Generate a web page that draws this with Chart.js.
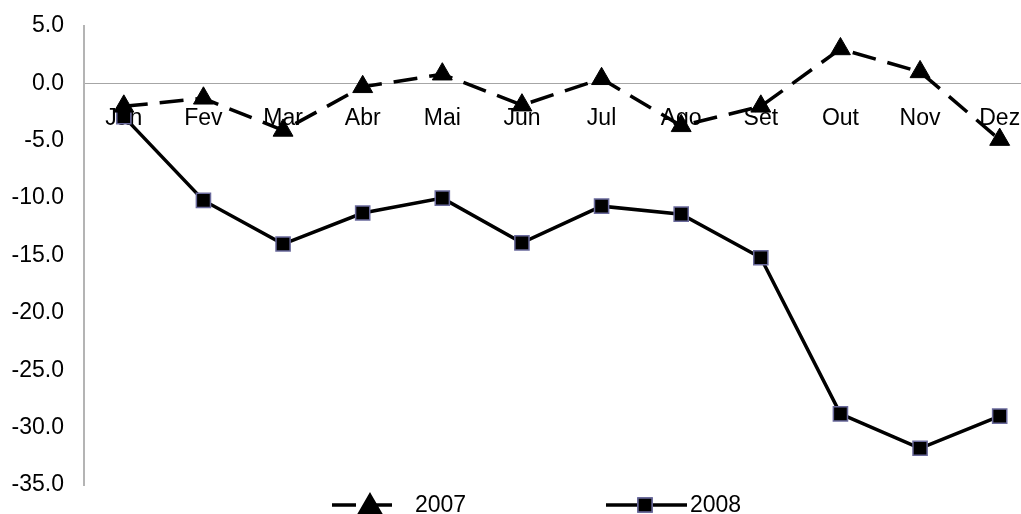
<!DOCTYPE html>
<html>
<head>
<meta charset="utf-8">
<script src="https://cdn.jsdelivr.net/npm/chart.js@4/dist/chart.umd.min.js"></script>
<style>
  html, body { margin: 0; padding: 0; background: #fff; overflow: hidden; }
  /* the plot runs a bit past the right edge, like the original */
  #wrap { width: 1021px; height: 514px; overflow: hidden; }
</style>
</head>
<body>
<div id="wrap"><canvas id="myChart" width="1052" height="514"></canvas></div>
<script>
// months on the category axis
const months = ['Jan', 'Fev', 'Mar', 'Abr', 'Mai', 'Jun', 'Jul', 'Ago', 'Set', 'Out', 'Nov', 'Dez'];

// values
const values2007 = [-2.0, -1.3, -4.1, -0.3, 0.8, -1.9, 0.4, -3.7, -2.0, 3.0, 1.0, -4.9];
const values2008 = [-2.9, -10.2, -14.0, -11.3, -10.0, -13.9, -10.7, -11.4, -15.2, -28.8, -31.8, -29.0];

// y axis ticks
const yTicks = [5, 0, -5, -10, -15, -20, -25, -30, -35];

const fontFamily = '"Liberation Sans", Arial, sans-serif';
const dash2007 = [24, 12];
const squareBorder = '#6a6a9c';

// legend under the plot, drawn by hand like the original
const bottomLegend = {
  id: 'bottomLegend',
  afterDraw(chart) {
    const ctx = chart.ctx;
    const y = 505;
    ctx.save();
    ctx.strokeStyle = '#000';
    ctx.lineWidth = 3.5;

    // 2007 : dashed + triangle
    ctx.setLineDash(dash2007);
    ctx.beginPath();
    ctx.moveTo(332, y);
    ctx.lineTo(400, y);
    ctx.stroke();
    ctx.setLineDash([]);
    ctx.fillStyle = '#000';
    Chart.helpers.drawPoint(ctx, { pointStyle: 'triangle', radius: 11.5, borderWidth: 1, rotation: 0 }, 370, y + 2);
    ctx.fill();

    // 2008 : solid + square
    ctx.beginPath();
    ctx.moveTo(606, y);
    ctx.lineTo(687, y);
    ctx.stroke();
    ctx.fillStyle = '#000';
    ctx.strokeStyle = squareBorder;
    ctx.lineWidth = 1.5;
    Chart.helpers.drawPoint(ctx, { pointStyle: 'rect', radius: 10, borderWidth: 1.5, rotation: 0 }, 645, y);
    ctx.fill();
    ctx.stroke();

    // texts
    ctx.fillStyle = '#000';
    ctx.font = '23px ' + fontFamily;
    ctx.textBaseline = 'alphabetic';
    ctx.textAlign = 'left';
    ctx.fillText('2007', 415, 512);
    ctx.fillText('2008', 690, 512);
    ctx.restore();
  }
};

const myChart = document.getElementById('myChart');

let lineChart = new Chart(myChart, {
  type: 'line',
  data: {
    labels: months,
    datasets: [{
      label: '2007',
      data: values2007,
      borderColor: '#000',
      borderWidth: 3.5,
      borderDash: dash2007,
      fill: false,
      tension: 0,
      pointStyle: 'triangle',
      pointRadius: 11.5,
      pointHoverRadius: 11.5,
      pointBackgroundColor: '#000',
      pointBorderColor: '#000',
      pointBorderWidth: 1
    }, {
      label: '2008',
      data: values2008,
      borderColor: '#000',
      borderWidth: 3.5,
      fill: false,
      tension: 0,
      pointStyle: 'rect',
      pointRadius: 10,
      pointHoverRadius: 10,
      pointBackgroundColor: '#000',
      pointBorderColor: squareBorder,
      pointBorderWidth: 1.5
    }]
  },
  options: {
    responsive: false,
    animation: false,
    layout: {
      padding: { left: 0, top: 26, right: 0, bottom: 29 }
    },
    plugins: {
      legend: { display: false },
      tooltip: { enabled: false }
    },
    scales: {
      x: {
        type: 'category',
        position: { y: 0 },
        offset: true,
        grid: { display: false, drawTicks: false },
        border: { display: true, color: '#a6a6a6', width: 1 },
        afterFit(scale) {
          scale.paddingLeft = 0;
          scale.paddingRight = 0;
        },
        ticks: {
          color: '#000',
          font: { family: fontFamily, size: 23 },
          padding: 21,
          maxRotation: 0,
          autoSkip: false
        }
      },
      y: {
        min: -35,
        max: 5,
        grid: { display: false, drawTicks: false },
        border: { display: true, color: '#b4b4b4', width: 2 },
        afterFit(scale) {
          scale.width = 84;
          scale.paddingTop = 0;
          scale.paddingBottom = 0;
        },
        afterBuildTicks(scale) {
          scale.ticks = yTicks.map(v => ({ value: v }));
        },
        ticks: {
          color: '#000',
          font: { family: fontFamily, size: 23 },
          padding: 20,
          callback: v => v.toFixed(1)
        }
      }
    }
  },
  plugins: [bottomLegend]
});
</script>
</body>
</html>
